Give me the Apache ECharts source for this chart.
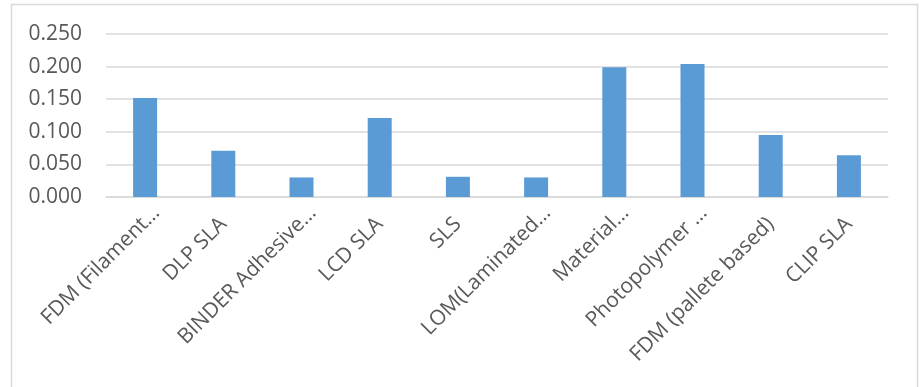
<!DOCTYPE html>
<html>
<head>
<meta charset="utf-8">
<script src="https://cdn.jsdelivr.net/npm/echarts@6/dist/echarts.min.js"></script>
<style>
  html, body { margin: 0; padding: 0; background: #fff; }
  #chart { width: 921px; height: 387px; }
</style>
</head>
<body>
<div id="chart"></div>
<script>
// Printing technologies and their values
const categories = [
  'FDM (Filament…',
  'DLP SLA',
  'BINDER Adhesive…',
  'LCD SLA',
  'SLS',
  'LOM(Laminated…',
  'Material…',
  'Photopolymer …',
  'FDM (pallete based)',
  'CLIP SLA'
];
const values = [0.152, 0.071, 0.030, 0.121, 0.031, 0.030, 0.199, 0.204, 0.095, 0.064];
const yTicks = { min: 0, max: 0.25, step: 0.05 };

const chart = echarts.init(document.getElementById('chart'), null, { renderer: 'canvas' });
const font = 'Open Sans, Lato, sans-serif';

chart.setOption({
  animation: false,
  graphic: [{
    type: 'rect',
    shape: { x: 11.5, y: 4.5, width: 906, height: 420 },
    style: { fill: 'none', stroke: '#d9d9d9', lineWidth: 1.5 },
    silent: true
  }],
  grid: { left: 106, right: 33, top: 34, bottom: 190, containLabel: false },
  xAxis: {
    type: 'category',
    data: categories,
    axisLine: { lineStyle: { color: '#d9d9d9', width: 1.5 } },
    axisTick: { show: false },
    axisLabel: {
      interval: 0,
      rotate: 45,
      margin: 24,
      color: '#595959',
      fontFamily: font,
      fontSize: 21,
      // shortened names sit a little further along their slant
      formatter: v => v.endsWith('…') ? '{cut|' + v + '}' : '{full|' + v + '}',
      rich: {
        cut: { color: '#595959', fontFamily: font, fontSize: 21, padding: [0, -16, 0, 0] },
        full: { color: '#595959', fontFamily: font, fontSize: 21 }
      }
    }
  },
  yAxis: {
    type: 'value',
    min: yTicks.min,
    max: yTicks.max,
    interval: yTicks.step,
    axisLine: { show: false },
    axisTick: { show: false },
    splitLine: { lineStyle: { color: '#d9d9d9', width: 1.5 } },
    axisLabel: {
      margin: 24,
      color: '#595959',
      fontFamily: font,
      fontSize: 21,
      formatter: v => v.toFixed(3)
    }
  },
  series: [{
    type: 'bar',
    data: values,
    barWidth: 24,
    itemStyle: { color: '#5b9bd5' }
  }]
});
</script>
</body>
</html>
